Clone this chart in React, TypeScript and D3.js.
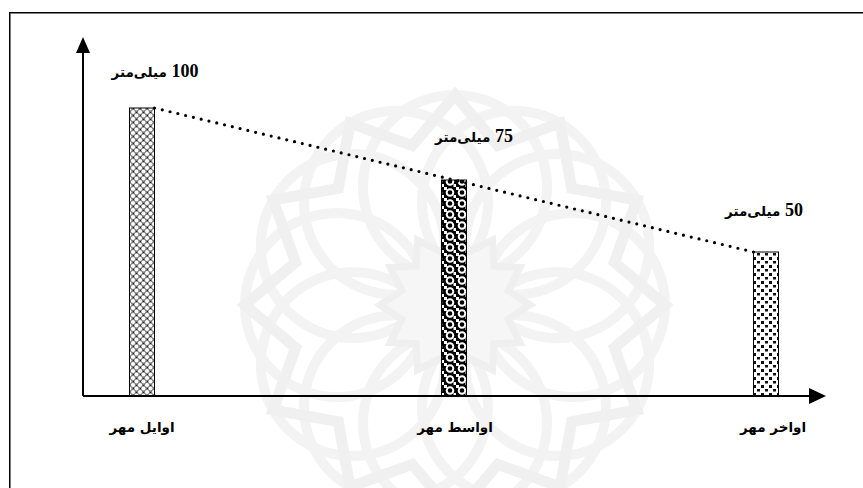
import React from "react";
import * as d3 from "d3";

const categories = ["اوایل مهر", "اواسط مهر", "اواخر مهر"];
const values = [100, 75, 50];
const unit = "میلی\u200cمتر";
const patterns = ["patA", "patB", "patC"];

const W = 863;
const H = 488;
const baseY = 396;
const axisX = 83;
const barW = 25;
// label offsets relative to bar top / centre (layout only)
const labelDx = [13, 20, -2];
const labelDy = [-31, -38, -36];

const SERIF = "'Liberation Serif', 'Times New Roman', serif";
const ARABIC = "'DejaVu Sans', sans-serif";

function Watermark() {
  const cx = 455;
  const cy = 305;
  const n = 12;
  const items: JSX.Element[] = [];
  for (let i = 0; i < n; i++) {
    const a = (i / n) * Math.PI * 2 - Math.PI / 2;
    const r = 118;
    items.push(
      <circle
        key={"c" + i}
        cx={cx + Math.cos(a) * r}
        cy={cy + Math.sin(a) * r}
        r={92}
        fill="none"
        stroke="#f3f3f3"
        strokeWidth={10}
      />
    );
  }
  const star = d3.range(n * 2).map((i) => {
    const a = (i / (n * 2)) * Math.PI * 2 - Math.PI / 2;
    const r = i % 2 === 0 ? 210 : 165;
    return [cx + Math.cos(a) * r, cy + Math.sin(a) * r] as [number, number];
  });
  const inner = d3.range(n * 2).map((i) => {
    const a = (i / (n * 2)) * Math.PI * 2 - Math.PI / 2;
    const r = i % 2 === 0 ? 75 : 55;
    return [cx + Math.cos(a) * r, cy + Math.sin(a) * r] as [number, number];
  });
  const lineGen = d3.line().curve(d3.curveLinearClosed);
  return (
    <g>
      {items}
      <path d={lineGen(star) || ""} fill="none" stroke="#f0f0f0" strokeWidth={11} />
      <path d={lineGen(inner) || ""} fill="#f6f6f6" stroke="#efefef" strokeWidth={7} />
    </g>
  );
}

export default function App() {
  const x = d3.scalePoint<string>().domain(categories).range([142, 766]);
  const y = d3.scaleLinear().domain([0, 100]).range([baseY, 108]);

  const pts: [number, number][] = categories.map((c, i) => {
    const cx = x(c) as number;
    const px = i === 0 ? cx + barW / 2 : i === categories.length - 1 ? cx - barW / 2 : cx;
    return [px, y(values[i])];
  });
  const line = d3.line();

  return (
    <svg
      width={W}
      height={H}
      style={{ position: "absolute", left: 0, top: 0, background: "#fff" }}
    >
      <defs>
        <pattern id="patA" width={7} height={7} patternUnits="userSpaceOnUse">
          <rect width={7} height={7} fill="#7a7a7a" />
          <circle cx={0} cy={0} r={2} fill="#fff" />
          <circle cx={7} cy={0} r={2} fill="#fff" />
          <circle cx={0} cy={7} r={2} fill="#fff" />
          <circle cx={7} cy={7} r={2} fill="#fff" />
          <circle cx={3.5} cy={3.5} r={2} fill="#fff" />
          <rect x={3} y={0} width={1} height={1} fill="#222" />
          <rect x={0} y={3} width={1} height={1} fill="#222" />
        </pattern>
        <pattern id="patB" width={12} height={11} patternUnits="userSpaceOnUse">
          <rect width={12} height={11} fill="#000" />
          <circle cx={6} cy={5.5} r={3.3} fill="none" stroke="#fff" strokeWidth={2} />
          <rect x={0} y={0} width={3} height={3} fill="#fff" />
          <rect x={9.5} y={8} width={2.5} height={3} fill="#fff" />
          <circle cx={6} cy={5.5} r={1.2} fill="#000" />
        </pattern>
        <pattern id="patC" width={8} height={8} patternUnits="userSpaceOnUse">
          <rect width={8} height={8} fill="#fff" />
          <rect x={1} y={1} width={3} height={3} fill="#111" />
          <rect x={5} y={5} width={3} height={2.5} fill="#111" />
        </pattern>
      </defs>

      <Watermark />

      {/* frame */}
      <rect x={9.75} y={12.75} width={W + 20} height={H + 20} fill="none" stroke="#000" strokeWidth={1.5} />

      {/* bars */}
      {categories.map((c, i) => (
        <rect
          key={c}
          x={(x(c) as number) - barW / 2}
          y={y(values[i])}
          width={barW}
          height={baseY - y(values[i])}
          fill={`url(#${patterns[i]})`}
          stroke="#000"
          strokeWidth={1}
        />
      ))}

      {/* dotted trend line */}
      <path
        d={line(pts) || ""}
        fill="none"
        stroke="#000"
        strokeWidth={3.2}
        strokeLinecap="round"
        strokeDasharray="0 8"
      />

      {/* axes */}
      <line x1={axisX} y1={baseY} x2={axisX} y2={50} stroke="#000" strokeWidth={2} />
      <line x1={axisX} y1={baseY} x2={812} y2={baseY} stroke="#000" strokeWidth={2} />
      <path d={`M${axisX},37 L${axisX - 7},53 L${axisX + 7},53 Z`} fill="#000" />
      <path d={`M826,${baseY} L809,${baseY - 8} L809,${baseY + 8} Z`} fill="#000" />

      {/* value labels */}
      {categories.map((c, i) => (
        <text
          key={"v" + c}
          x={(x(c) as number) + labelDx[i]}
          y={y(values[i]) + labelDy[i]}
          textAnchor="middle"
          direction="rtl"
          style={{ direction: "rtl", unicodeBidi: "embed" }}
          fontWeight="bold"
          fill="#000"
        >
          <tspan fontFamily={SERIF} fontSize={18}>{String(values[i])}</tspan>
          <tspan fontFamily={ARABIC} fontSize={13.5}>{" " + unit}</tspan>
        </text>
      ))}

      {/* category labels */}
      {categories.map((c, i) => (
        <text
          key={"c" + c}
          x={(x(c) as number) + (i === 2 ? 7 : i === 1 ? 1 : 0)}
          y={432}
          textAnchor="middle"
          direction="rtl"
          style={{ direction: "rtl", unicodeBidi: "embed" }}
          fontFamily={ARABIC}
          fontWeight="bold"
          fontSize={13.5}
          fill="#000"
        >
          {c}
        </text>
      ))}
    </svg>
  );
}
